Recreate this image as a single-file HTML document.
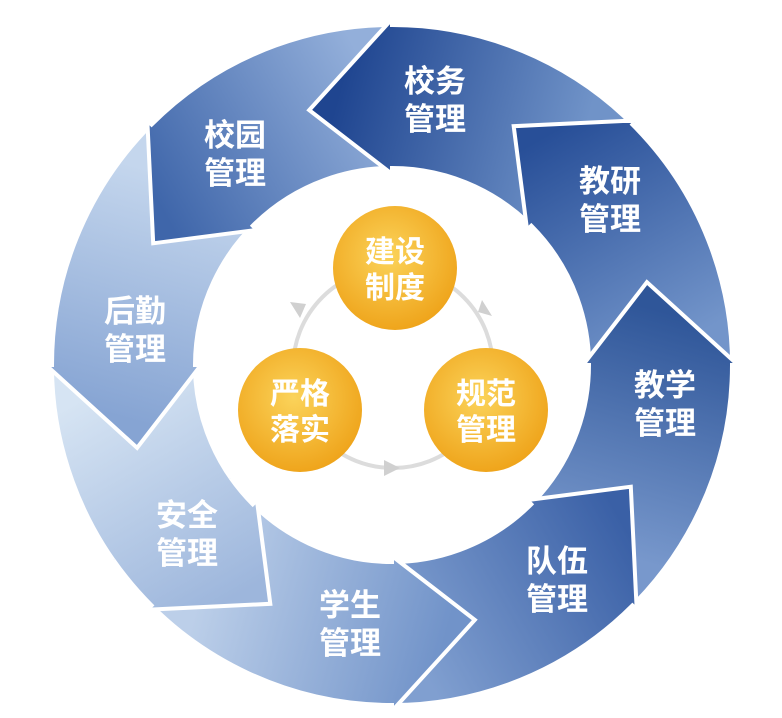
<!DOCTYPE html>
<html><head><meta charset="utf-8"><style>
html,body{margin:0;padding:0;background:#fff;}
svg{display:block;}
text{font-family:"Liberation Sans","Noto Sans CJK SC",sans-serif;font-weight:bold;}
</style></head><body>
<svg id="s" width="782" height="718" viewBox="0 0 782 718" xmlns="http://www.w3.org/2000/svg">
<defs id="defs">
<radialGradient id="o" cx="0.45" cy="0.4" r="0.6">
<stop offset="0" stop-color="#fbd35a"/>
<stop offset="1" stop-color="#efa51c"/>
</radialGradient>
</defs>
<g id="ring"></g>
<circle cx="393" cy="368" r="100" fill="none" stroke="#dcdcdc" stroke-width="4"/>
<polygon points="300,318 290,302 306,304" fill="#d0d0d0"/>
<polygon points="482,300 492,316 478,312" fill="#d0d0d0"/>
<polygon points="400,468 384,460 384,476" fill="#d0d0d0"/>
<circle cx="395" cy="268" r="62" fill="url(#o)"/>
<circle cx="300" cy="410" r="62" fill="url(#o)"/>
<circle cx="486" cy="410" r="62" fill="url(#o)"/>
<g fill="#fff" font-size="30" text-anchor="middle">
<text x="395" y="262">建设</text><text x="395" y="298">制度</text>
<text x="300" y="404">严格</text><text x="300" y="440">落实</text>
<text x="486" y="404">规范</text><text x="486" y="440">管理</text>
</g>
<g fill="#fff" font-size="31" text-anchor="middle">
<text x="435" y="92">校务</text><text x="435" y="130">管理</text>
<text x="610" y="192">教研</text><text x="610" y="230">管理</text>
<text x="665" y="396">教学</text><text x="665" y="434">管理</text>
<text x="557" y="572">队伍</text><text x="557" y="610">管理</text>
<text x="350" y="616">学生</text><text x="350" y="654">管理</text>
<text x="187" y="526">安全</text><text x="187" y="564">管理</text>
<text x="135" y="322">后勤</text><text x="135" y="360">管理</text>
<text x="235" y="146">校园</text><text x="235" y="184">管理</text>
</g>
</svg>
<script>
(function(){
var cx=392,cy=365,R=340,r=197,rm=268,E=6;
function xy(rad,a){a=a*Math.PI/180;return [cx+rad*Math.cos(a),cy+rad*Math.sin(a)];}
function p(rad,a){var q=xy(rad,a);return q[0].toFixed(1)+","+q[1].toFixed(1);}
var cols=[["#1f4590","#7093c8"],["#284f98","#7395ca"],["#2f5699","#7898cc"],["#3a60a6","#809fd0"],
["#7193c9","#bccfe9"],["#9db6dc","#d6e4f3"],["#86a4d3","#c4d6ed"],["#3f66aa","#93afda"]];
var defs=document.getElementById("defs"),dh="";
var paths=[];
for(var k=0;k<8;k++){
var c=-82+45*k;
var h=xy(rm,c-20),t=xy(rm,c+35);
dh+='<linearGradient id="g'+k+'" gradientUnits="userSpaceOnUse" x1="'+h[0]+'" y1="'+h[1]+'" x2="'+t[0]+'" y2="'+t[1]+'"><stop offset="0" stop-color="'+cols[k][0]+'"/><stop offset="1" stop-color="'+cols[k][1]+'"/></linearGradient>';
var d="M"+p(R,c+42)+" A"+R+","+R+" 0 0 0 "+p(R,c-8)+
" L"+p(R+E,c-8)+" L"+p(rm,c-26)+" L"+p(r-E,c-8)+" L"+p(r,c-8)+
" A"+r+","+r+" 0 0 1 "+p(r,c+42)+" Z";
var dHead="M"+p(R,c+2)+" A"+R+","+R+" 0 0 0 "+p(R,c-8)+
" L"+p(R+E,c-8)+" L"+p(rm,c-26)+" L"+p(r-E,c-8)+" L"+p(r,c-8)+
" A"+r+","+r+" 0 0 1 "+p(r,c+2)+" Z";
var dFront="M"+p(R,c+2)+" A"+R+","+R+" 0 0 0 "+p(R,c-8)+
" L"+p(R+E,c-8)+" L"+p(rm,c-26)+" L"+p(r-E,c-8)+" L"+p(r,c-8)+
" A"+r+","+r+" 0 0 1 "+p(r,c+2);
paths[k]=[d,dHead,dFront];
}
defs.innerHTML+=dh;
var order=[5,6,7,0,1,2,3,4],s="";
order.forEach(function(k){s+='<path d="'+paths[k][0]+'" fill="url(#g'+k+')" stroke="#fff" stroke-width="4" stroke-linejoin="miter"/>';});
s+='<path d="'+paths[5][1]+'" fill="url(#g5)" stroke="none"/>';
s+='<path d="'+paths[5][2]+'" fill="none" stroke="#fff" stroke-width="4" stroke-linejoin="miter"/>';
document.getElementById("ring").innerHTML=s;
})();
</script>
</body></html>
